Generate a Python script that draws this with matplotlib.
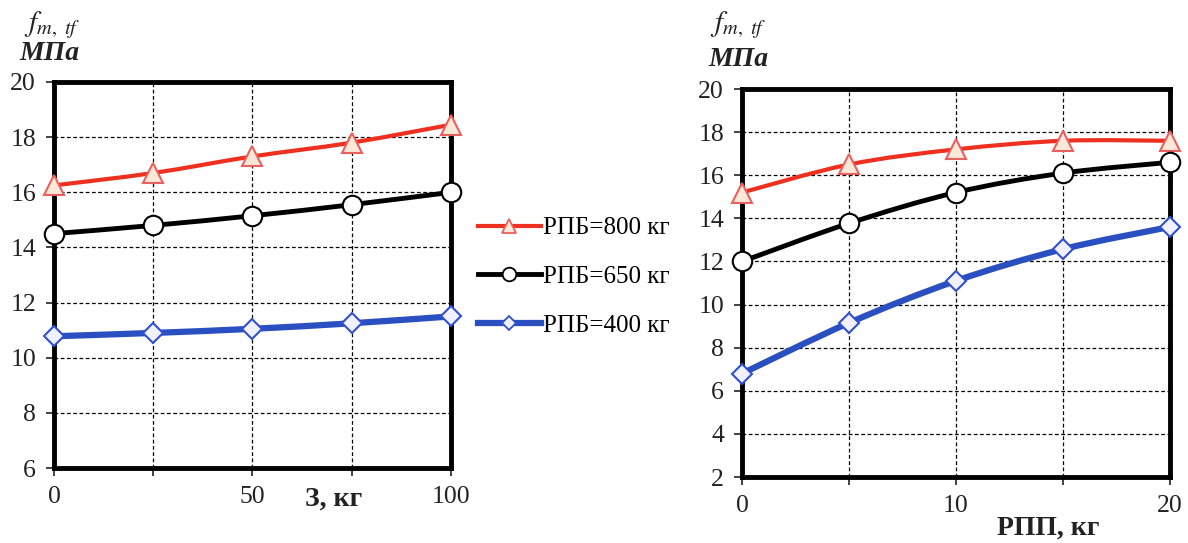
import numpy as np
import matplotlib
matplotlib.use('Agg')
import matplotlib.pyplot as plt
from matplotlib.path import Path
from matplotlib.patches import PathPatch
from matplotlib.lines import Line2D

plt.rcParams['font.family'] = ['Liberation Serif', 'DejaVu Serif']
plt.rcParams['mathtext.fontset'] = 'stix'

# --- data ---
z_kg = [0, 25, 50, 75, 100]
z_800 = [16.25, 16.7, 17.3, 17.8, 18.45]
z_650 = [14.5, 14.8, 15.15, 15.55, 16.0]
z_400 = [10.78, 10.9, 11.05, 11.25, 11.5]

rpp_kg = [0, 5, 10, 15, 20]
rpp_800 = [15.2, 16.5, 17.2, 17.6, 17.6]
rpp_650 = [12.0, 13.77, 15.2, 16.1, 16.6]
rpp_400 = [6.8, 9.15, 11.1, 12.57, 13.6]

labels = ['РПБ=800 кг', 'РПБ=650 кг', 'РПБ=400 кг']

styles = [
    dict(color='#ee3020', lw=3.0, marker='^', mec='#e86060', mfc='#fbe8d8', ms=14),
    dict(color='black', lw=3.5, marker='o', mec='black', mfc='white', ms=14),
    dict(color='#2a4fc0', lw=4.5, marker='D', mec='#3050d0', mfc='#f0f0ff', ms=10),
]


def smooth_path(x, y):
    # Excel-style smoothed line: cubic Bezier segments through the points
    x = np.asarray(x, float)
    y = np.asarray(y, float)
    verts = [(x[0], y[0])]
    codes = [Path.MOVETO]
    n = len(x)
    for i in range(n - 1):
        x0, y0 = (x[i - 1], y[i - 1]) if i > 0 else (x[i], y[i])
        x3, y3 = (x[i + 2], y[i + 2]) if i + 2 < n else (x[i + 1], y[i + 1])
        c1 = (x[i] + (x[i + 1] - x0) / 6, y[i] + (y[i + 1] - y0) / 6)
        c2 = (x[i + 1] - (x3 - x[i]) / 6, y[i + 1] - (y3 - y[i]) / 6)
        verts += [c1, c2, (x[i + 1], y[i + 1])]
        codes += [Path.CURVE4] * 3
    return Path(verts, codes)


def draw(ax, xs, series, xlim, ylim, yticks, xticks, xticklabels):
    for ys, st in zip(series, styles):
        ax.add_patch(PathPatch(smooth_path(xs, ys), fill=False,
                               edgecolor=st['color'], lw=st['lw'], zorder=3))
        ax.plot(xs, ys, ls='none', marker=st['marker'], mec=st['mec'],
                mfc=st['mfc'], ms=st['ms'], mew=1.5, zorder=4, clip_on=False)
    ax.set_xlim(*xlim)
    ax.set_ylim(*ylim)
    ax.set_yticks(yticks)
    ax.set_xticks(xticks)
    ax.set_xticklabels(xticklabels)
    ax.grid(True, color='black', ls=(0, (3, 2)), lw=0.9)
    for s in ax.spines.values():
        s.set_linewidth(3.5)
        s.set_color('black')
    ax.tick_params(axis='both', labelsize=18.5, direction='out', length=6,
                   width=1.2, colors='#222222', pad=7)
    ax.set_axisbelow(True)


fig = plt.figure(figsize=(11.88, 5.43), dpi=100)

ax1 = fig.add_axes([0.0455, 0.138, 0.334, 0.711])
draw(ax1, z_kg, [z_800, z_650, z_400], (0, 100), (6, 20),
     range(6, 21, 2), z_kg, ['0', '', '50', '', '100'])

ax2 = fig.add_axes([0.6246, 0.1215, 0.360, 0.7145])
draw(ax2, rpp_kg, [rpp_800, rpp_650, rpp_400], (0, 20), (2, 20),
     range(2, 21, 2), rpp_kg, ['0', '', '10', '', '20'])

# axis titles
for x in (0.020, 0.598):
    fig.text(x, 0.925, r'$f_{m,\ tf}$', fontsize=21, ha='left', va='bottom',
             color='#222222')
fig.text(0.016, 0.878, 'МПа', fontsize=20, fontweight='bold', style='italic',
         ha='left', va='bottom', color='#222222')
fig.text(0.596, 0.868, 'МПа', fontsize=20, fontweight='bold', style='italic',
         ha='left', va='bottom', color='#222222')
fig.text(0.281, 0.058, 'З, кг', fontsize=20, fontweight='bold', ha='center',
         va='bottom', color='#222222')
fig.text(0.882, 0.004, 'РПП, кг', fontsize=20, fontweight='bold', ha='center',
         va='bottom', color='#222222')

# legend between the panels
handles = [Line2D([], [], color=st['color'], lw=st['lw'], marker=st['marker'],
                  mec=st['mec'], mfc=st['mfc'], ms=st['ms'] * 0.7, mew=1.3)
           for st in styles]
fig.legend(handles, labels, loc='center left', bbox_to_anchor=(0.392, 0.49),
           frameon=False, fontsize=18, handlelength=2.5, handletextpad=0.1,
           labelspacing=1.05, borderpad=0)

fig.savefig('out.png', dpi=100, facecolor='white')
